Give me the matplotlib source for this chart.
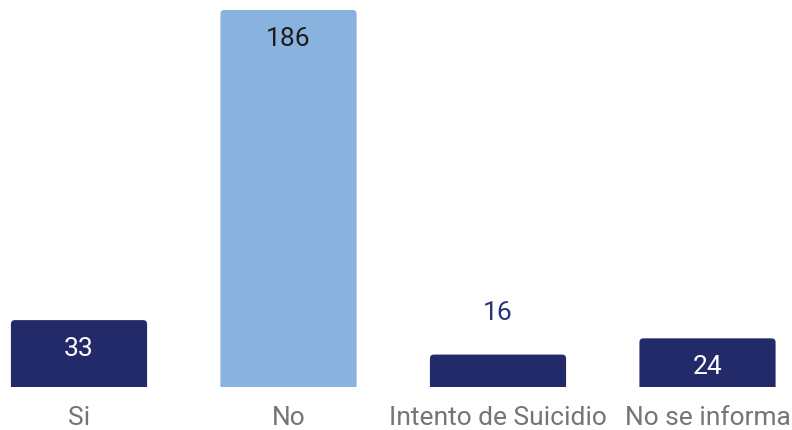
import matplotlib.pyplot as plt
from matplotlib.patches import FancyBboxPatch

categories = ["Si", "No", "Intento de Suicidio", "No se informa"]
values = [33, 186, 16, 24]
colors = ["#232a69", "#8ab2df", "#232a69", "#232a69"]
label_colors = ["white", "#1c1c1c", "#283578", "white"]

plt.rcParams['font.family'] = ['Roboto', 'DejaVu Sans']

fig = plt.figure(figsize=(7.92, 4.30), dpi=100)
ax = fig.add_axes([0, 0.1, 1, 377 / 430])

px_x = 209.5          # pixels per category step
px_y = 377 / 186      # pixels per unit
ax.set_xlim(-79 / px_x, (792 - 79) / px_x)
ax.set_ylim(0, 186)

width = 0.65
r = 4 / px_x
for i, (v, c) in enumerate(zip(values, colors)):
    box = FancyBboxPatch((i - width / 2, -10), width, v + 10,
                         boxstyle=f"round,pad=0,rounding_size={r}",
                         mutation_aspect=px_x / px_y,
                         fc=c, ec="none", clip_on=True)
    ax.add_patch(box)
    if v * px_y > 45:
        ax.text(i, v - 29 / px_y, str(v), ha="center", va="center",
                fontsize=19, color=label_colors[i])
    else:
        ax.text(i, v + 42 / px_y, str(v), ha="center", va="center",
                fontsize=19, color=label_colors[i])

ax.set_xticks(range(len(categories)))
ax.set_xticklabels(categories, fontsize=19, color="#757575")
ax.tick_params(axis="x", length=0, pad=14)
ax.set_yticks([])
for s in ax.spines.values():
    s.set_visible(False)

fig.savefig("out.png", dpi=100)
